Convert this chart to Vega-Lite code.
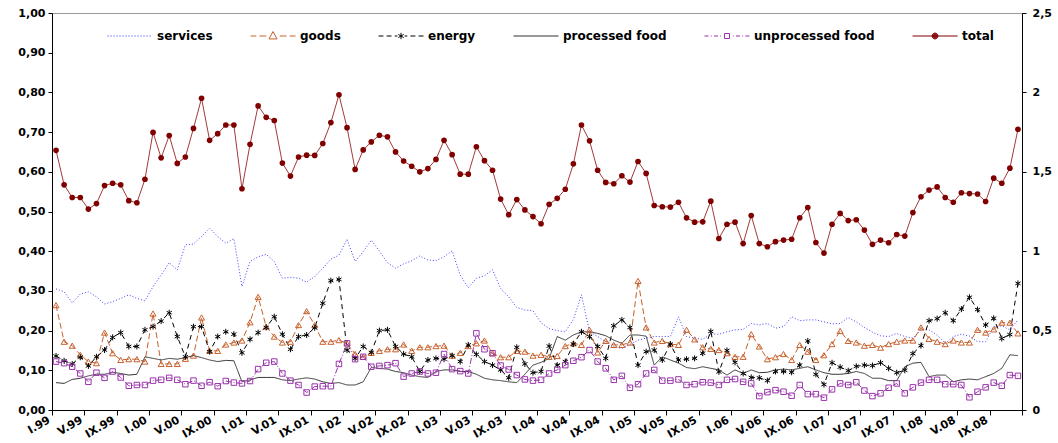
{
"$schema": "https://vega.github.io/schema/vega-lite/v6.json",
"width": 970, "height": 397,
"autosize": {"type": "none"},
"padding": {"left": 52, "top": 13, "right": 36, "bottom": 33},
"background": "white",
"config": {"view": {"stroke": "#9a9a9a", "strokeWidth": 1}, "font": "DejaVu Sans",
  "legend": {"orient": "none", "legendX": 55, "legendY": 0, "direction": "horizontal", "title": null,
    "symbolSize": 2025, "symbolStrokeWidth": 1, "symbolOpacity": 1, "symbolFillColor": "transparent",
    "labelFont": "DejaVu Sans", "labelFontWeight": "bold", "labelFontSize": 12, "labelColor": "black",
    "labelOffset": 4, "columnPadding": 35, "padding": 0, "labelLimit": 300}},
"data": {"values": [
{"m":0,"services":0.305,"goods":0.264,"energy":0.136,"processed food":0.069,"unprocessed food":0.122,"total":1.635},
{"m":1,"services":0.298,"goods":0.172,"energy":0.124,"processed food":0.067,"unprocessed food":0.118,"total":1.418},
{"m":2,"services":0.270,"goods":0.162,"energy":0.116,"processed food":0.077,"unprocessed food":0.109,"total":1.338},
{"m":3,"services":0.292,"goods":0.139,"energy":0.133,"processed food":0.080,"unprocessed food":0.092,"total":1.338},
{"m":4,"services":0.298,"goods":0.122,"energy":0.111,"processed food":0.086,"unprocessed food":0.071,"total":1.265},
{"m":5,"services":0.285,"goods":0.118,"energy":0.134,"processed food":0.090,"unprocessed food":0.094,"total":1.300},
{"m":6,"services":0.267,"goods":0.195,"energy":0.151,"processed food":0.090,"unprocessed food":0.081,"total":1.413},
{"m":7,"services":0.273,"goods":0.143,"energy":0.183,"processed food":0.095,"unprocessed food":0.097,"total":1.428},
{"m":8,"services":0.281,"goods":0.126,"energy":0.195,"processed food":0.092,"unprocessed food":0.082,"total":1.418},
{"m":9,"services":0.290,"goods":0.128,"energy":0.160,"processed food":0.088,"unprocessed food":0.061,"total":1.318},
{"m":10,"services":0.281,"goods":0.128,"energy":0.160,"processed food":0.090,"unprocessed food":0.063,"total":1.305},
{"m":11,"services":0.275,"goods":0.122,"energy":0.202,"processed food":0.134,"unprocessed food":0.063,"total":1.453},
{"m":12,"services":0.311,"goods":0.243,"energy":0.210,"processed food":0.130,"unprocessed food":0.074,"total":1.748},
{"m":13,"services":0.340,"goods":0.116,"energy":0.224,"processed food":0.126,"unprocessed food":0.076,"total":1.588},
{"m":14,"services":0.371,"goods":0.116,"energy":0.245,"processed food":0.130,"unprocessed food":0.081,"total":1.728},
{"m":15,"services":0.353,"goods":0.116,"energy":0.185,"processed food":0.128,"unprocessed food":0.076,"total":1.553},
{"m":16,"services":0.416,"goods":0.129,"energy":0.134,"processed food":0.132,"unprocessed food":0.065,"total":1.593},
{"m":17,"services":0.418,"goods":0.137,"energy":0.210,"processed food":0.137,"unprocessed food":0.074,"total":1.773},
{"m":18,"services":0.437,"goods":0.233,"energy":0.210,"processed food":0.132,"unprocessed food":0.061,"total":1.963},
{"m":19,"services":0.458,"goods":0.149,"energy":0.147,"processed food":0.126,"unprocessed food":0.070,"total":1.698},
{"m":20,"services":0.437,"goods":0.149,"energy":0.185,"processed food":0.122,"unprocessed food":0.060,"total":1.740},
{"m":21,"services":0.420,"goods":0.165,"energy":0.197,"processed food":0.125,"unprocessed food":0.073,"total":1.795},
{"m":22,"services":0.432,"goods":0.170,"energy":0.191,"processed food":0.124,"unprocessed food":0.069,"total":1.795},
{"m":23,"services":0.311,"goods":0.175,"energy":0.144,"processed food":0.071,"unprocessed food":0.067,"total":1.393},
{"m":24,"services":0.374,"goods":0.221,"energy":0.178,"processed food":0.076,"unprocessed food":0.073,"total":1.673},
{"m":25,"services":0.386,"goods":0.285,"energy":0.195,"processed food":0.082,"unprocessed food":0.103,"total":1.915},
{"m":26,"services":0.392,"goods":0.210,"energy":0.208,"processed food":0.082,"unprocessed food":0.119,"total":1.843},
{"m":27,"services":0.374,"goods":0.185,"energy":0.235,"processed food":0.082,"unprocessed food":0.122,"total":1.823},
{"m":28,"services":0.332,"goods":0.170,"energy":0.191,"processed food":0.076,"unprocessed food":0.092,"total":1.555},
{"m":29,"services":0.334,"goods":0.172,"energy":0.153,"processed food":0.074,"unprocessed food":0.074,"total":1.473},
{"m":30,"services":0.332,"goods":0.214,"energy":0.185,"processed food":0.078,"unprocessed food":0.063,"total":1.593},
{"m":31,"services":0.322,"goods":0.249,"energy":0.189,"processed food":0.081,"unprocessed food":0.044,"total":1.605},
{"m":32,"services":0.336,"goods":0.214,"energy":0.207,"processed food":0.078,"unprocessed food":0.059,"total":1.603},
{"m":33,"services":0.357,"goods":0.172,"energy":0.269,"processed food":0.071,"unprocessed food":0.060,"total":1.678},
{"m":34,"services":0.380,"goods":0.172,"energy":0.326,"processed food":0.067,"unprocessed food":0.060,"total":1.810},
{"m":35,"services":0.390,"goods":0.176,"energy":0.329,"processed food":0.069,"unprocessed food":0.116,"total":1.985},
{"m":36,"services":0.430,"goods":0.168,"energy":0.151,"processed food":0.063,"unprocessed food":0.168,"total":1.778},
{"m":37,"services":0.374,"goods":0.141,"energy":0.130,"processed food":0.063,"unprocessed food":0.128,"total":1.515},
{"m":38,"services":0.399,"goods":0.134,"energy":0.160,"processed food":0.071,"unprocessed food":0.134,"total":1.638},
{"m":39,"services":0.428,"goods":0.144,"energy":0.145,"processed food":0.107,"unprocessed food":0.109,"total":1.688},
{"m":40,"services":0.400,"goods":0.149,"energy":0.200,"processed food":0.105,"unprocessed food":0.111,"total":1.730},
{"m":41,"services":0.371,"goods":0.153,"energy":0.202,"processed food":0.103,"unprocessed food":0.113,"total":1.720},
{"m":42,"services":0.357,"goods":0.153,"energy":0.160,"processed food":0.097,"unprocessed food":0.118,"total":1.625},
{"m":43,"services":0.368,"goods":0.165,"energy":0.141,"processed food":0.094,"unprocessed food":0.084,"total":1.568},
{"m":44,"services":0.376,"goods":0.149,"energy":0.134,"processed food":0.088,"unprocessed food":0.092,"total":1.535},
{"m":45,"services":0.388,"goods":0.158,"energy":0.097,"processed food":0.084,"unprocessed food":0.097,"total":1.500},
{"m":46,"services":0.378,"goods":0.158,"energy":0.126,"processed food":0.082,"unprocessed food":0.092,"total":1.520},
{"m":47,"services":0.376,"goods":0.161,"energy":0.130,"processed food":0.097,"unprocessed food":0.094,"total":1.578},
{"m":48,"services":0.386,"goods":0.162,"energy":0.128,"processed food":0.101,"unprocessed food":0.141,"total":1.698},
{"m":49,"services":0.401,"goods":0.137,"energy":0.137,"processed food":0.101,"unprocessed food":0.103,"total":1.608},
{"m":50,"services":0.340,"goods":0.144,"energy":0.122,"processed food":0.097,"unprocessed food":0.098,"total":1.485},
{"m":51,"services":0.308,"goods":0.161,"energy":0.164,"processed food":0.097,"unprocessed food":0.092,"total":1.485},
{"m":52,"services":0.332,"goods":0.168,"energy":0.140,"processed food":0.090,"unprocessed food":0.193,"total":1.658},
{"m":53,"services":0.338,"goods":0.175,"energy":0.122,"processed food":0.080,"unprocessed food":0.153,"total":1.570},
{"m":54,"services":0.353,"goods":0.143,"energy":0.113,"processed food":0.076,"unprocessed food":0.143,"total":1.510},
{"m":55,"services":0.306,"goods":0.133,"energy":0.101,"processed food":0.074,"unprocessed food":0.112,"total":1.328},
{"m":56,"services":0.285,"goods":0.133,"energy":0.081,"processed food":0.071,"unprocessed food":0.102,"total":1.230},
{"m":57,"services":0.258,"goods":0.149,"energy":0.158,"processed food":0.069,"unprocessed food":0.088,"total":1.325},
{"m":58,"services":0.252,"goods":0.147,"energy":0.116,"processed food":0.090,"unprocessed food":0.077,"total":1.260},
{"m":59,"services":0.250,"goods":0.137,"energy":0.094,"processed food":0.113,"unprocessed food":0.074,"total":1.218},
{"m":60,"services":0.220,"goods":0.139,"energy":0.097,"processed food":0.120,"unprocessed food":0.076,"total":1.173},
{"m":61,"services":0.205,"goods":0.134,"energy":0.161,"processed food":0.130,"unprocessed food":0.092,"total":1.295},
{"m":62,"services":0.200,"goods":0.136,"energy":0.113,"processed food":0.185,"unprocessed food":0.101,"total":1.333},
{"m":63,"services":0.197,"goods":0.161,"energy":0.122,"processed food":0.176,"unprocessed food":0.113,"total":1.390},
{"m":64,"services":0.228,"goods":0.168,"energy":0.166,"processed food":0.189,"unprocessed food":0.124,"total":1.550},
{"m":65,"services":0.290,"goods":0.164,"energy":0.197,"processed food":0.197,"unprocessed food":0.133,"total":1.795},
{"m":66,"services":0.197,"goods":0.202,"energy":0.185,"processed food":0.197,"unprocessed food":0.151,"total":1.695},
{"m":67,"services":0.185,"goods":0.145,"energy":0.160,"processed food":0.193,"unprocessed food":0.122,"total":1.510},
{"m":68,"services":0.172,"goods":0.174,"energy":0.130,"processed food":0.187,"unprocessed food":0.105,"total":1.433},
{"m":69,"services":0.160,"goods":0.164,"energy":0.212,"processed food":0.176,"unprocessed food":0.076,"total":1.425},
{"m":70,"services":0.155,"goods":0.164,"energy":0.227,"processed food":0.168,"unprocessed food":0.086,"total":1.475},
{"m":71,"services":0.165,"goods":0.170,"energy":0.208,"processed food":0.189,"unprocessed food":0.056,"total":1.435},
{"m":72,"services":0.176,"goods":0.325,"energy":0.113,"processed food":0.189,"unprocessed food":0.065,"total":1.565},
{"m":73,"services":0.181,"goods":0.208,"energy":0.147,"processed food":0.186,"unprocessed food":0.092,"total":1.490},
{"m":74,"services":0.185,"goods":0.170,"energy":0.151,"processed food":0.113,"unprocessed food":0.101,"total":1.288},
{"m":75,"services":0.185,"goods":0.174,"energy":0.126,"processed food":0.134,"unprocessed food":0.074,"total":1.280},
{"m":76,"services":0.185,"goods":0.166,"energy":0.166,"processed food":0.126,"unprocessed food":0.074,"total":1.278},
{"m":77,"services":0.235,"goods":0.164,"energy":0.126,"processed food":0.118,"unprocessed food":0.077,"total":1.308},
{"m":78,"services":0.185,"goods":0.202,"energy":0.128,"processed food":0.107,"unprocessed food":0.063,"total":1.210},
{"m":79,"services":0.181,"goods":0.178,"energy":0.130,"processed food":0.104,"unprocessed food":0.065,"total":1.183},
{"m":80,"services":0.178,"goods":0.158,"energy":0.143,"processed food":0.109,"unprocessed food":0.070,"total":1.185},
{"m":81,"services":0.191,"goods":0.154,"energy":0.198,"processed food":0.105,"unprocessed food":0.069,"total":1.315},
{"m":82,"services":0.191,"goods":0.151,"energy":0.096,"processed food":0.101,"unprocessed food":0.063,"total":1.080},
{"m":83,"services":0.197,"goods":0.143,"energy":0.150,"processed food":0.088,"unprocessed food":0.076,"total":1.170},
{"m":84,"services":0.202,"goods":0.134,"energy":0.120,"processed food":0.101,"unprocessed food":0.078,"total":1.183},
{"m":85,"services":0.203,"goods":0.134,"energy":0.092,"processed food":0.092,"unprocessed food":0.071,"total":1.048},
{"m":86,"services":0.218,"goods":0.191,"energy":0.082,"processed food":0.101,"unprocessed food":0.067,"total":1.225},
{"m":87,"services":0.214,"goods":0.160,"energy":0.081,"processed food":0.094,"unprocessed food":0.035,"total":1.048},
{"m":88,"services":0.218,"goods":0.128,"energy":0.074,"processed food":0.095,"unprocessed food":0.045,"total":1.028},
{"m":89,"services":0.206,"goods":0.133,"energy":0.097,"processed food":0.101,"unprocessed food":0.050,"total":1.060},
{"m":90,"services":0.210,"goods":0.141,"energy":0.097,"processed food":0.103,"unprocessed food":0.046,"total":1.070},
{"m":91,"services":0.235,"goods":0.126,"energy":0.095,"processed food":0.101,"unprocessed food":0.036,"total":1.075},
{"m":92,"services":0.225,"goods":0.164,"energy":0.113,"processed food":0.105,"unprocessed food":0.063,"total":1.210},
{"m":93,"services":0.227,"goods":0.147,"energy":0.174,"processed food":0.109,"unprocessed food":0.040,"total":1.275},
{"m":94,"services":0.227,"goods":0.126,"energy":0.090,"processed food":0.101,"unprocessed food":0.040,"total":1.055},
{"m":95,"services":0.222,"goods":0.138,"energy":0.064,"processed food":0.094,"unprocessed food":0.031,"total":0.988},
{"m":96,"services":0.217,"goods":0.166,"energy":0.119,"processed food":0.090,"unprocessed food":0.052,"total":1.170},
{"m":97,"services":0.218,"goods":0.199,"energy":0.108,"processed food":0.090,"unprocessed food":0.067,"total":1.238},
{"m":98,"services":0.233,"goods":0.174,"energy":0.099,"processed food":0.092,"unprocessed food":0.063,"total":1.193},
{"m":99,"services":0.222,"goods":0.170,"energy":0.110,"processed food":0.097,"unprocessed food":0.070,"total":1.198},
{"m":100,"services":0.208,"goods":0.162,"energy":0.113,"processed food":0.092,"unprocessed food":0.049,"total":1.133},
{"m":101,"services":0.196,"goods":0.164,"energy":0.112,"processed food":0.080,"unprocessed food":0.035,"total":1.043},
{"m":102,"services":0.187,"goods":0.157,"energy":0.119,"processed food":0.080,"unprocessed food":0.042,"total":1.070},
{"m":103,"services":0.185,"goods":0.166,"energy":0.105,"processed food":0.074,"unprocessed food":0.056,"total":1.053},
{"m":104,"services":0.193,"goods":0.172,"energy":0.094,"processed food":0.074,"unprocessed food":0.067,"total":1.105},
{"m":105,"services":0.185,"goods":0.175,"energy":0.100,"processed food":0.109,"unprocessed food":0.042,"total":1.095},
{"m":106,"services":0.181,"goods":0.175,"energy":0.142,"processed food":0.118,"unprocessed food":0.057,"total":1.243},
{"m":107,"services":0.202,"goods":0.208,"energy":0.162,"processed food":0.120,"unprocessed food":0.069,"total":1.343},
{"m":108,"services":0.202,"goods":0.179,"energy":0.225,"processed food":0.084,"unprocessed food":0.076,"total":1.385},
{"m":109,"services":0.189,"goods":0.172,"energy":0.230,"processed food":0.088,"unprocessed food":0.076,"total":1.405},
{"m":110,"services":0.168,"goods":0.166,"energy":0.245,"processed food":0.088,"unprocessed food":0.065,"total":1.338},
{"m":111,"services":0.185,"goods":0.175,"energy":0.225,"processed food":0.071,"unprocessed food":0.065,"total":1.308},
{"m":112,"services":0.191,"goods":0.170,"energy":0.254,"processed food":0.076,"unprocessed food":0.063,"total":1.368},
{"m":113,"services":0.186,"goods":0.170,"energy":0.284,"processed food":0.078,"unprocessed food":0.032,"total":1.363},
{"m":114,"services":0.172,"goods":0.202,"energy":0.253,"processed food":0.076,"unprocessed food":0.046,"total":1.360},
{"m":115,"services":0.172,"goods":0.195,"energy":0.214,"processed food":0.084,"unprocessed food":0.057,"total":1.313},
{"m":116,"services":0.210,"goods":0.203,"energy":0.231,"processed food":0.092,"unprocessed food":0.069,"total":1.460},
{"m":117,"services":0.212,"goods":0.220,"energy":0.180,"processed food":0.105,"unprocessed food":0.061,"total":1.428},
{"m":118,"services":0.202,"goods":0.220,"energy":0.190,"processed food":0.139,"unprocessed food":0.088,"total":1.523},
{"m":119,"services":0.227,"goods":0.193,"energy":0.319,"processed food":0.137,"unprocessed food":0.086,"total":1.768}
]},
"encoding": {
  "x": {"field": "m", "type": "quantitative",
    "scale": {"domain": [-0.5, 119.5], "nice": false, "zero": false},
    "axis": {"title": null, "grid": false,
      "values": [-0.5,3.5,7.5,11.5,15.5,19.5,23.5,27.5,31.5,35.5,39.5,43.5,47.5,51.5,55.5,59.5,63.5,67.5,71.5,75.5,79.5,83.5,87.5,91.5,95.5,99.5,103.5,107.5,111.5,115.5,119.5],
      "labelExpr": "datum.value > 119 ? '' : ['I','V','IX'][((datum.value + 0.5) / 4) % 3] + '.' + ((((99 + floor((datum.value + 0.5) / 12)) % 100) < 10) ? '0' : '') + ((99 + floor((datum.value + 0.5) / 12)) % 100)",
      "labelAngle": -30, "labelAlign": "right", "labelBaseline": "middle",
      "labelFont": "DejaVu Sans", "labelFontWeight": "bold", "labelFontSize": 11, "labelColor": "black",
      "labelPadding": 4, "labelOffset": -3, "labelOverlap": false, "labelBound": false, "labelFlush": false,
      "domainColor": "black", "tickColor": "black", "tickSize": 5}}
},
"layer": [
  {
    "transform": [{"fold": ["services", "goods", "energy", "processed food", "unprocessed food"], "as": ["series", "value"]}],
    "encoding": {
      "y": {"field": "value", "type": "quantitative",
        "scale": {"domain": [0, 1], "nice": false, "zero": true},
        "axis": {"title": null, "grid": false, "orient": "left",
          "values": [0, 0.1, 0.2, 0.3, 0.4, 0.5, 0.6, 0.7, 0.8, 0.9, 1.0],
          "labelExpr": "replace(format(datum.value, '.2f'), '.', ',')",
          "labelFont": "DejaVu Sans", "labelFontWeight": "bold", "labelFontSize": 11, "labelColor": "black",
          "labelPadding": 3, "domainColor": "black", "tickColor": "black", "tickSize": 4}}
    },
    "layer": [
      {
        "mark": {"type": "line", "strokeWidth": 1},
        "encoding": {
          "color": {"field": "series", "type": "nominal",
            "scale": {"domain": ["services", "goods", "energy", "processed food", "unprocessed food", "total"],
                      "range": ["#4040FF", "#C8602C", "#000000", "#333333", "#9933AA", "#800000"]}},
          "strokeDash": {"field": "series", "type": "nominal", "legend": null,
            "scale": {"domain": ["services", "goods", "energy", "processed food", "unprocessed food"],
                      "range": [[1, 2], [6, 3], [5, 4], [1, 0], [6, 2, 1, 2]]}}
        }
      },
      {
        "transform": [{"filter": "datum.series === 'goods'"}],
        "mark": {"type": "point", "shape": "triangle-up", "filled": false, "size": 36, "strokeWidth": 1, "opacity": 1, "color": "#C8602C"}
      },
      {
        "transform": [{"filter": "datum.series === 'energy'"}],
        "mark": {"type": "point", "shape": "M0,-1V1M-0.87,-0.5L0.87,0.5M-0.87,0.5L0.87,-0.5", "filled": false, "size": 36, "strokeWidth": 1, "opacity": 1, "color": "#000000"}
      },
      {
        "transform": [{"filter": "datum.series === 'unprocessed food'"}],
        "mark": {"type": "point", "shape": "square", "filled": false, "size": 30, "strokeWidth": 1, "opacity": 1, "color": "#9933AA"}
      }
    ]
  },
  {
    "transform": [{"fold": ["total"], "as": ["series", "value"]}],
    "mark": {"type": "line", "strokeWidth": 1, "color": "#A33A3A", "point": {"filled": true, "size": 32, "opacity": 1, "color": "#800000"}},
    "encoding": {
      "y": {"field": "value", "type": "quantitative",
        "scale": {"domain": [0, 2.5], "nice": false, "zero": true},
        "axis": {"title": null, "grid": false, "orient": "right",
          "values": [0, 0.5, 1, 1.5, 2, 2.5],
          "labelExpr": "replace(format(datum.value, '~g'), '.', ',')",
          "labelFont": "DejaVu Sans", "labelFontWeight": "bold", "labelFontSize": 11, "labelColor": "black",
          "labelPadding": 6, "domainColor": "black", "tickColor": "black", "tickSize": 4}}
    }
  },
  {
    "transform": [{"fold": ["total"], "as": ["series", "value"]}, {"filter": "false"}],
    "mark": {"type": "point", "filled": false, "opacity": 1, "strokeWidth": 1},
    "encoding": {
      "color": {"field": "series", "type": "nominal",
        "scale": {"domain": ["services", "goods", "energy", "processed food", "unprocessed food", "total"],
                  "range": ["#4040FF", "#C8602C", "#000000", "#333333", "#9933AA", "#800000"]}},
      "shape": {"field": "series", "type": "nominal",
        "scale": {"domain": ["services", "goods", "energy", "processed food", "unprocessed food", "total"],
                  "range": [
                    "M-1,0h0.05M-0.867,0h0.05M-0.733,0h0.05M-0.6,0h0.05M-0.467,0h0.05M-0.333,0h0.05M-0.2,0h0.05M-0.067,0h0.05M0.067,0h0.05M0.2,0h0.05M0.333,0h0.05M0.467,0h0.05M0.6,0h0.05M0.733,0h0.05M0.867,0h0.05",
                    "M-1,0H-0.74M-0.6,0H-0.3M0.3,0H0.6M0.74,0H1M0,-0.2L0.18,0.13L-0.18,0.13Z",
                    "M-1,0H-0.78M-0.64,0H-0.42M-0.28,0H-0.16M0.16,0H0.28M0.42,0H0.64M0.78,0H1M0,-0.14V0.14M-0.12,-0.07L0.12,0.07M-0.12,0.07L0.12,-0.07",
                    "M-1,0H1",
                    "M-1,0H-0.82M-0.72,0H-0.68M-0.58,0H-0.4M-0.3,0H-0.26M0.26,0H0.3M0.4,0H0.58M0.68,0H0.72M0.82,0H1M-0.11,-0.11H0.11V0.11H-0.11Z",
                    "M-1,0H1M0.13,0A0.13,0.13 0 1,1 -0.13,0A0.13,0.13 0 1,1 0.13,0M0.1,0A0.1,0.1 0 1,1 -0.1,0A0.1,0.1 0 1,1 0.1,0M0.075,0A0.075,0.075 0 1,1 -0.075,0A0.075,0.075 0 1,1 0.075,0M0.05,0A0.05,0.05 0 1,1 -0.05,0A0.05,0.05 0 1,1 0.05,0M0.025,0A0.025,0.025 0 1,1 -0.025,0A0.025,0.025 0 1,1 0.025,0"
                  ]}}
    }
  }
],
"resolve": {"scale": {"y": "independent"}}
}
